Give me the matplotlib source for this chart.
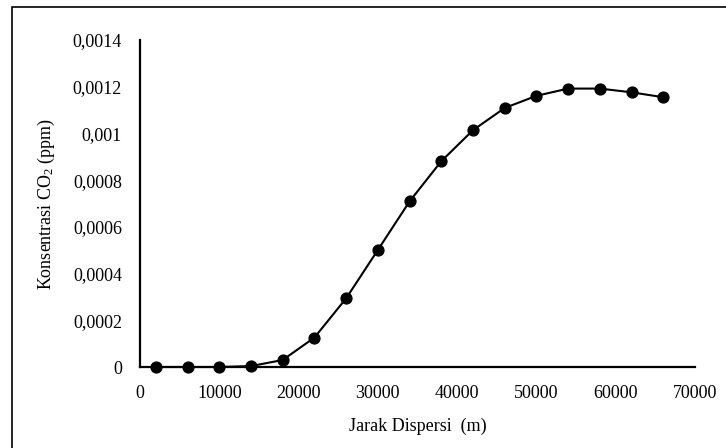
import matplotlib
matplotlib.use('Agg')
import matplotlib.pyplot as plt
from matplotlib.ticker import MultipleLocator, FuncFormatter
from matplotlib.patches import Rectangle

# data
jarak = [2000, 6000, 10000, 14000, 18000, 22000, 26000, 30000, 34000,
         38000, 42000, 46000, 50000, 54000, 58000, 62000, 66000]
konsentrasi = [0.0, 0.0, 0.0, 0.000004, 0.00003, 0.000126, 0.000294, 0.000501,
               0.000709, 0.000881, 0.001014, 0.001109, 0.001161, 0.001192,
               0.001192, 0.001176, 0.001155]
x_label = 'Jarak Dispersi  (m)'
y_label = r'Konsentrasi CO$_2$ (ppm)'

plt.rcParams['font.family'] = 'Liberation Serif'
plt.rcParams['mathtext.fontset'] = 'custom'
plt.rcParams['mathtext.rm'] = 'Liberation Serif'
plt.rcParams['mathtext.it'] = 'Liberation Serif:italic'

fig = plt.figure(figsize=(7.26, 4.48), dpi=100)
ax = fig.add_axes([140/726, 1 - 367/448, (695 - 140)/726, (367 - 40)/448])

ax.plot(jarak, konsentrasi, color='black', lw=1.5, marker='o', ms=7.8,
        clip_on=False, zorder=3)

ax.set_xlim(0, 70000)
ax.set_ylim(0, 0.0014)
ax.xaxis.set_major_locator(MultipleLocator(10000))
ax.yaxis.set_major_locator(MultipleLocator(0.0002))


def koma(v, pos):
    if abs(v) < 1e-12:
        return '0'
    s = f'{v:.4f}'.rstrip('0').rstrip('.')
    return s.replace('.', ',')


ax.yaxis.set_major_formatter(FuncFormatter(koma))
ax.tick_params(length=0, labelsize=13, pad=13)

for side in ['top', 'right']:
    ax.spines[side].set_visible(False)
for side in ['left', 'bottom']:
    ax.spines[side].set_linewidth(1.6)
    ax.spines[side].set_color('black')

ax.set_xlabel(x_label, fontsize=13, labelpad=11)
ax.set_ylabel(y_label, fontsize=13, labelpad=11)

# outer frame of the chart area (runs past the right and bottom edge)
frame = Rectangle((12/726, -0.1), 1.2, 1 - 7/448 + 0.1, transform=fig.transFigure,
                  fill=False, lw=1.2, edgecolor='black', clip_on=False)
fig.patches.append(frame)

fig.savefig('out.png', dpi=100)
